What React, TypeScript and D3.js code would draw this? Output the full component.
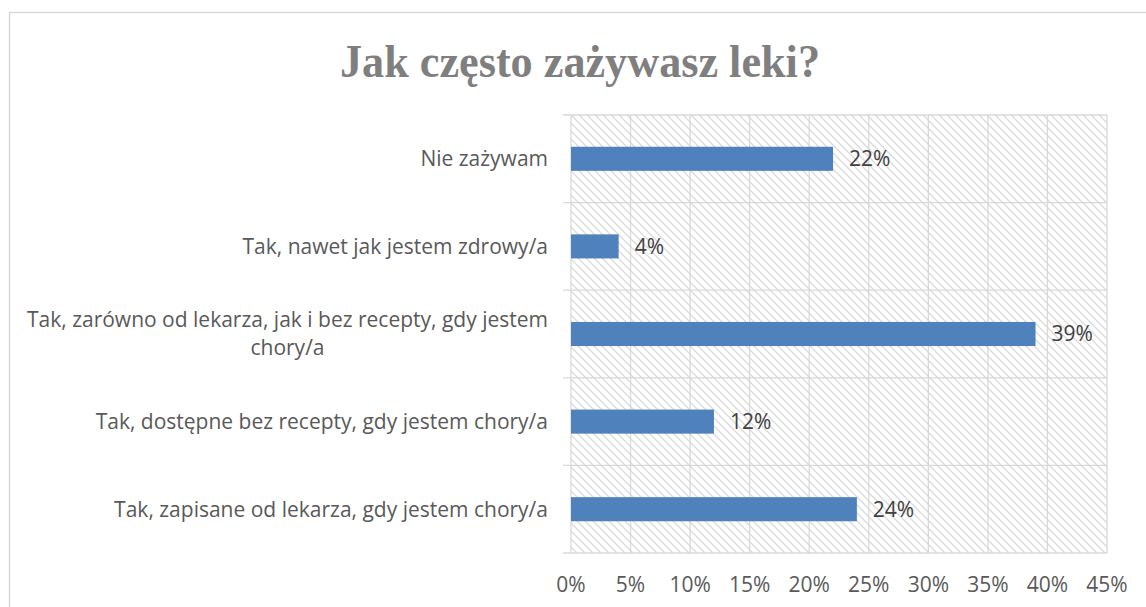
import React from "react";
import * as d3 from "d3";

const title = "Jak często zażywasz leki?";
const categories = [
  "Nie zażywam",
  "Tak, nawet jak jestem zdrowy/a",
  "Tak, zarówno od lekarza, jak i bez recepty, gdy jestem chory/a",
  "Tak, dostępne bez recepty, gdy jestem chory/a",
  "Tak, zapisane od lekarza, gdy jestem chory/a",
];
const values = [0.22, 0.04, 0.39, 0.12, 0.24];
const xTicks = [0, 0.05, 0.1, 0.15, 0.2, 0.25, 0.3, 0.35, 0.4, 0.45];

const W = 1146;
const H = 607;
const plot = { left: 571, right: 1107, top: 115, bottom: 553 };
const labelFont = "'Open Sans', 'Noto Sans', sans-serif";
const labelSize = 21;

function wrap(text: string, maxChars: number): string[] {
  const words = text.split(" ");
  const lines: string[] = [];
  let cur = "";
  for (const w of words) {
    const next = cur ? cur + " " + w : w;
    if (next.length > maxChars && cur) {
      lines.push(cur);
      cur = w;
    } else cur = next;
  }
  if (cur) lines.push(cur);
  return lines;
}

let ctx: CanvasRenderingContext2D | null = null;
function measure(text: string): number {
  if (!ctx) {
    const c = document.createElement("canvas");
    ctx = c.getContext("2d");
  }
  if (!ctx) return text.length * labelSize * 0.5;
  ctx.font = `${labelSize}px 'Open Sans', 'Noto Sans', sans-serif`;
  return ctx.measureText(text).width;
}

export default function App() {
  const x = d3.scaleLinear().domain([0, 0.45]).range([plot.left, plot.right]);
  const y = d3.scaleBand<string>().domain(categories).range([plot.top, plot.bottom]).padding(0);
  const barH = y.bandwidth() * 0.275;
  const fmt = d3.format(".0%");
  const gridColor = "#d9d9d9";
  const labelRight = 548;

  return (
    <svg
      width={W}
      height={H}
      style={{ position: "fixed", left: 0, top: 0, background: "#fff" }}
    >
      <defs>
        <pattern id="hatch" width={8} height={8} patternUnits="userSpaceOnUse">
          <rect width={8} height={8} fill="#fff" />
          <path d="M-2,-2 L10,10 M-2,6 L2,10 M6,-2 L10,2" stroke="#dadada" strokeWidth={1.3} />
        </pattern>
      </defs>
      <rect x={9.5} y={12.5} width={W} height={H} fill="#fff" stroke="#d9d9d9" strokeWidth={1.5} />
      <text
        x={340}
        y={77}
        textLength={480}
        lengthAdjust="spacingAndGlyphs"
        fontFamily="'Liberation Serif', serif"
        fontWeight="bold"
        fontSize={47}
        fill="#7f7f7f"
      >
        {title}
      </text>
      <rect
        x={plot.left}
        y={plot.top}
        width={plot.right - plot.left}
        height={plot.bottom - plot.top}
        fill="url(#hatch)"
      />
      {xTicks.map((t) => (
        <line
          key={"gx" + t}
          x1={x(t)}
          x2={x(t)}
          y1={plot.top}
          y2={plot.bottom}
          stroke={gridColor}
          strokeWidth={1.3}
        />
      ))}
      {categories.map((c) => (
        <line
          key={"gy" + c}
          x1={plot.left - 8}
          x2={plot.right}
          y1={y(c)!}
          y2={y(c)!}
          stroke={gridColor}
          strokeWidth={1.3}
        />
      ))}
      <line
        x1={plot.left - 8}
        x2={plot.right}
        y1={plot.bottom}
        y2={plot.bottom}
        stroke={gridColor}
        strokeWidth={1.3}
      />
      {categories.map((c, i) => {
        const cy = y(c)! + y.bandwidth() / 2;
        return (
          <g key={"b" + c}>
            <rect x={x(0)} y={cy - barH / 2} width={x(values[i]) - x(0)} height={barH} fill="#4f81bd" />
            <text
              x={x(values[i]) + 16}
              y={cy}
              dy="0.35em"
              fontFamily={labelFont}
              fontSize={labelSize}
              fill="#404040"
            >
              {fmt(values[i])}
            </text>
          </g>
        );
      })}
      {categories.map((c) => {
        const lines = wrap(c, 55);
        const cy = y(c)! + y.bandwidth() / 2;
        const lh = 28;
        const widest = Math.max(...lines.map(measure));
        const center = labelRight - widest / 2;
        return (
          <text
            key={"l" + c}
            fontFamily={labelFont}
            fontSize={labelSize}
            fill="#595959"
            textAnchor={lines.length > 1 ? "middle" : "end"}
          >
            {lines.map((ln, j) => (
              <tspan
                key={j}
                x={lines.length > 1 ? center : labelRight}
                y={cy + (j - (lines.length - 1) / 2) * lh}
                dy="0.35em"
              >
                {ln}
              </tspan>
            ))}
          </text>
        );
      })}
      {xTicks.map((t) => (
        <text
          key={"tx" + t}
          x={x(t)}
          y={585}
          dy="0.35em"
          textAnchor="middle"
          fontFamily={labelFont}
          fontSize={labelSize}
          fill="#595959"
        >
          {fmt(t)}
        </text>
      ))}
    </svg>
  );
}
